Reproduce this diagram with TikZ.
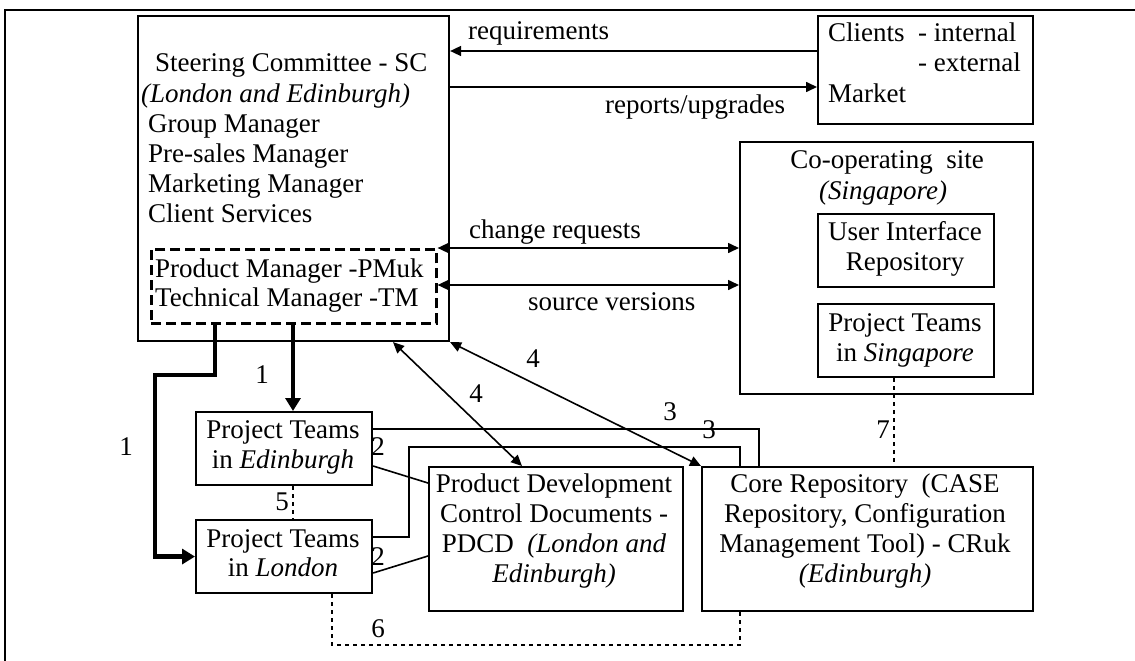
\documentclass[tikz,border=0pt]{standalone}
\usepackage{fontspec}
\setmainfont{Liberation Serif}
\usetikzlibrary{arrows.meta}
\begin{document}
\begin{tikzpicture}[x=1pt,y=-1pt,
  box/.style={draw, line width=2.1pt, inner sep=0pt, anchor=north west},
  dbox/.style={box, line width=2.6pt, dash pattern=on 10pt off 5pt},
  txt/.style={inner sep=0pt, anchor=base west, font=\fontsize{27}{30}\selectfont},
  ctxt/.style={txt, anchor=base},
  conn/.style={line width=1.6pt},
  arr/.style={conn, -{Triangle[length=11pt,width=10pt]}},
  darr/.style={conn, {Triangle[length=11pt,width=10pt]}-{Triangle[length=11pt,width=10pt]}},
  thickarr/.style={line width=4.5pt, -{Triangle[length=13pt,width=15pt]}},
  dotline/.style={line width=2.6pt, dash pattern=on 4pt off 4pt},
]
\useasboundingbox (0,0) rectangle (1135,661);
% outer frame
\draw[line width=2.2pt] (5,661) -- (5,10) -- (1135,10);

% boxes
\node[box, minimum width=311pt, minimum height=325pt] (sc) at (137,15) {};
\node[dbox, minimum width=285pt, minimum height=74pt] (dash) at (150,248) {};
\node[box, minimum width=215pt, minimum height=108pt] (clients) at (817,15) {};
\node[box, minimum width=293pt, minimum height=252pt] (coop) at (739,141) {};
\node[box, minimum width=176pt, minimum height=73pt] (ui) at (817,213) {};
\node[box, minimum width=176pt, minimum height=73pt] (sing) at (817,303) {};
\node[box, minimum width=176pt, minimum height=73pt] (edin) at (195,411) {};
\node[box, minimum width=176pt, minimum height=73pt] (lon) at (195,519) {};
\node[box, minimum width=254pt, minimum height=144pt] (pdcd) at (428,466) {};
\node[box, minimum width=331pt, minimum height=144pt] (core) at (701,466) {};

% texts in SC
\node[txt] (sc1) at (155,72) {Steering Committee - SC};
\node[txt] (sc2) at (141,102) {\textit{(London and Edinburgh)}};
\node[txt] (sc3) at (148,132) {Group Manager};
\node[txt] (sc4) at (148,162) {Pre-sales Manager};
\node[txt] (sc5) at (148,192) {Marketing Manager};
\node[txt] (sc6) at (148,222) {Client Services};
\node[txt] (pm1) at (155,277) {Product Manager -PMuk};
\node[txt] (pm2) at (155,306) {Technical Manager -TM};
% clients
\node[txt] (cl1) at (828,42) {Clients\ \ - internal};
\node[txt] (cl2) at (918,72) {- external};
\node[txt] (cl3) at (828,102) {Market};
% co-operating site
\node[ctxt] (co1) at (887,168) {Co-operating\ \ site};
\node[ctxt] (co2) at (883,199) {\textit{(Singapore)}};
\node[ctxt] (ui1) at (905,240) {User Interface};
\node[ctxt] (ui2) at (905,270) {Repository};
\node[ctxt] (sg1) at (905,331) {Project Teams};
\node[ctxt] (sg2) at (905,361) {in \textit{Singapore}};
% project teams
\node[ctxt] (ed1) at (283,438) {Project Teams};
\node[ctxt] (ed2) at (283,468) {in \textit{Edinburgh}};
\node[ctxt] (lo1) at (283,547) {Project Teams};
\node[ctxt] (lo2) at (283,576) {in \textit{London}};
% PDCD
\node[ctxt] (pd1) at (554,492) {Product Development};
\node[ctxt] (pd2) at (554,522) {Control Documents -};
\node[ctxt] (pd3) at (554,552) {PDCD\ \ \textit{(London and}};
\node[ctxt] (pd4) at (554,582) {\textit{Edinburgh)}};
% Core
\node[ctxt] (cr1) at (865,492) {Core Repository\ \ (CASE};
\node[ctxt] (cr2) at (865,522) {Repository, Configuration};
\node[ctxt] (cr3) at (865,552) {Management Tool) - CRuk};
\node[ctxt] (cr4) at (865,582) {\textit{(Edinburgh)}};

% helper coordinates
\coordinate (yreq) at (0,51);
\coordinate (yrep) at (0,87);
\coordinate (ycr) at (0,248);
\coordinate (ysv) at (0,285);
\coordinate (k1) at (293,322);
\coordinate (k2) at (215,322);
\coordinate (b1) at (155,375);
\coordinate (c2a) at (0,466);
\coordinate (c2b) at (0,483);
\coordinate (c2c) at (0,573);
\coordinate (c2d) at (0,556);
\coordinate (c3a) at (0,429);
\coordinate (x3a) at (759,0);
\coordinate (c3b) at (0,537);
\coordinate (c3c) at (409,447);
\coordinate (x3b) at (740,0);
\coordinate (x4a) at (393,0);
\coordinate (x4b) at (522,0);
\coordinate (x6) at (332,0);
\coordinate (c6) at (740,645);
\coordinate (x7) at (894,0);

% connectors
\draw[arr] (clients.west |- yreq) -- (sc.east |- yreq);
\draw[arr] (sc.east |- yrep) -- (clients.west |- yrep);
\draw[darr] (dash.east |- ycr) -- (coop.west |- ycr);
\draw[darr] (dash.east |- ysv) -- (coop.west |- ysv);
\draw[thickarr] (k1) -- (k1 |- edin.north);
\draw[thickarr] (k2) |- (b1) |- (lon.west);
\draw[conn] (edin.east |- c2a) -- (pdcd.west |- c2b);
\draw[conn] (lon.east |- c2c) -- (pdcd.west |- c2d);
\draw[conn] (edin.east |- c3a) -| (x3a |- core.north);
\draw[conn] (lon.east |- c3b) -| (c3c) -| (x3b |- core.north);
\draw[darr] (x4a |- sc.south) -- (x4b |- pdcd.north);
\draw[darr] (sc.south east) -- (core.north west);
\draw[dotline] (k1 |- edin.south) -- (k1 |- lon.north);
\draw[dotline] (x6 |- lon.south) |- (c6) -- (c6 |- core.south);
\draw[dotline] (x7 |- sing.south) -- (x7 |- core.north);

% labels
\node[txt] (lreq) at (468,40) {requirements};
\node[txt] (lrep) at (605,113) {reports/upgrades};
\node[txt] (lcr) at (469,238) {change requests};
\node[txt] (lsv) at (528,310) {source versions};
\node[ctxt] (n1a) at (262,383) {1};
\node[ctxt] (n1b) at (126,455) {1};
\node[ctxt] (n2a) at (378,455) {2};
\node[ctxt] (n2b) at (378,565) {2};
\node[ctxt] (n3a) at (670,420) {3};
\node[ctxt] (n3b) at (709,438) {3};
\node[ctxt] (n4a) at (476,402) {4};
\node[ctxt] (n4b) at (533,367) {4};
\node[ctxt] (n5) at (282,510) {5};
\node[ctxt] (n6) at (378,637) {6};
\node[ctxt] (n7) at (883,438) {7};
\end{tikzpicture}
\end{document}
